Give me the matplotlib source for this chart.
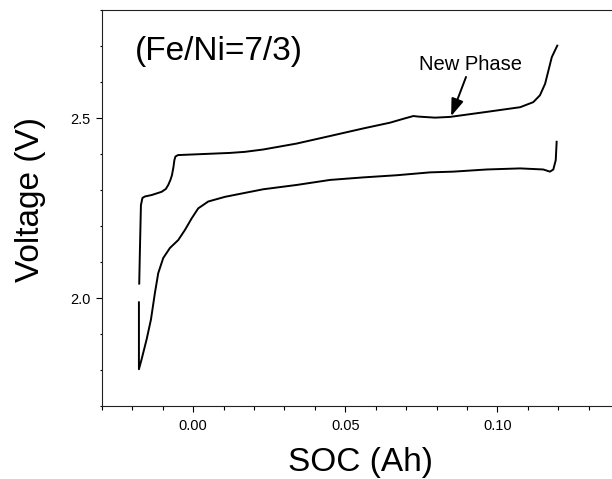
import matplotlib
matplotlib.use("Agg")
import matplotlib.pyplot as plt
from matplotlib.ticker import MultipleLocator

plt.rcParams['font.family'] = ['Liberation Sans', 'DejaVu Sans']

# Upper curve (charge)
charge_soc = [-0.01776, -0.01753, -0.0172, -0.0167, -0.0159, -0.01368, -0.01039, -0.0090,
              -0.00822, -0.0075, -0.0070, -0.0065, -0.0062, -0.00586, -0.0050, 0.01207,
              0.0170, 0.0230, 0.0340, 0.0450, 0.0559, 0.0647, 0.0696, 0.0724, 0.0739,
              0.0757, 0.0795, 0.0844, 0.0965, 0.1075, 0.1118, 0.1140, 0.1157, 0.1168,
              0.1179, 0.1197]
charge_v = [2.040, 2.134, 2.258, 2.278, 2.282, 2.286, 2.295, 2.303,
            2.314, 2.328, 2.341, 2.364, 2.383, 2.393, 2.397, 2.403,
            2.406, 2.4125, 2.429, 2.450, 2.471, 2.487, 2.499, 2.5055, 2.504,
            2.503, 2.501, 2.503, 2.517, 2.530, 2.544, 2.563, 2.595, 2.632,
            2.669, 2.701]

# Lower curve (discharge)
discharge_soc = [-0.01786, -0.01786, -0.0170, -0.01533, -0.01391, -0.0126, -0.01151,
                 -0.00987, -0.00766, -0.00493, -0.00273, -0.00053, 0.00164, 0.00493,
                 0.01043, 0.0170, 0.0230, 0.0340, 0.0450, 0.0559, 0.0669, 0.0779,
                 0.0855, 0.0965, 0.1075, 0.1151, 0.1173, 0.1184, 0.1192, 0.1195]
discharge_v = [1.988, 1.802, 1.829, 1.885, 1.940, 2.014, 2.069,
               2.111, 2.139, 2.161, 2.189, 2.221, 2.249, 2.268,
               2.281, 2.292, 2.302, 2.314, 2.328, 2.335, 2.341, 2.349,
               2.351, 2.357, 2.360, 2.357, 2.351, 2.357, 2.383, 2.434]

x_major_ticks = [0.00, 0.05, 0.10]
x_tick_labels = ["0.00", "0.05", "0.10"]
y_major_ticks = [2.0, 2.5]
y_tick_labels = ["2.0", "2.5"]

fig = plt.figure(figsize=(6.12, 4.79), dpi=100)
W, H = 612, 479
left, right, top, bottom = 102, 619, 10, 406
ax = fig.add_axes([left / W, (H - bottom) / H, (right - left) / W, (bottom - top) / H])

ax.plot(charge_soc, charge_v, color='black', lw=1.4)
ax.plot(discharge_soc, discharge_v, color='black', lw=1.4)

ax.set_xlim(-0.03, 0.14)
ax.set_ylim(1.7, 2.8)
ax.set_xticks(x_major_ticks)
ax.set_xticklabels(x_tick_labels)
ax.set_yticks(y_major_ticks)
ax.set_yticklabels(y_tick_labels)
ax.xaxis.set_minor_locator(MultipleLocator(0.01))
ax.yaxis.set_minor_locator(MultipleLocator(0.1))

ax.tick_params(axis='both', which='major', direction='out', width=0.8, labelsize=10.5)
ax.tick_params(axis='x', which='major', length=4, pad=5)
ax.tick_params(axis='x', which='minor', length=3, width=0.8)
ax.tick_params(axis='y', which='major', length=4.5, pad=3.5)
ax.tick_params(axis='y', which='minor', length=1.8, width=0.8)

for s in ['left', 'top', 'bottom']:
    ax.spines[s].set_linewidth(0.8)
    ax.spines[s].set_color('#222222')
ax.spines['right'].set_visible(False)

ax.text(0.064, 0.874, "(Fe/Ni=7/3)", transform=ax.transAxes, fontsize=24,
        ha='left', va='baseline')

ax.annotate('', xy=(0.0848, 2.505), xytext=(0.0897, 2.614),
            arrowprops=dict(arrowstyle='-|>,head_length=0.7,head_width=0.25',
                            mutation_scale=15, color='black', lw=1.4,
                            shrinkA=0, shrinkB=0))
ax.text(0.0743, 2.632, "New Phase", fontsize=14.5, ha='left', va='baseline')

fig.text(360.5 / W, (H - 471) / H, "SOC (Ah)", fontsize=24, ha='center', va='baseline')
fig.text(31 / W, (H - 200) / H, "Voltage (V)", fontsize=24, rotation=90,
         ha='center', va='center')

fig.savefig("out.png", dpi=100)
